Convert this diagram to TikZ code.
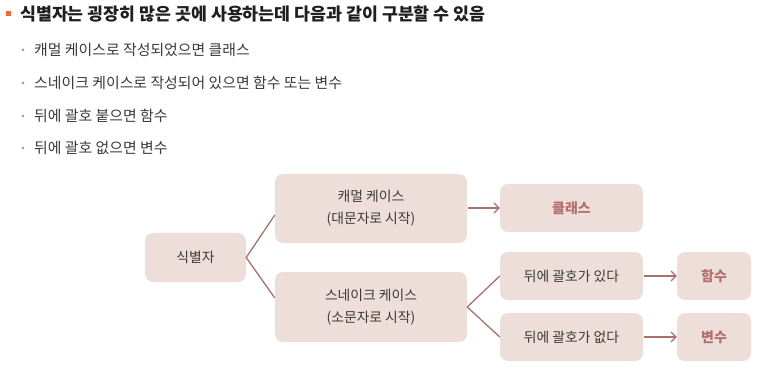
\documentclass[tikz,border=0pt]{standalone}
\usepackage{fontspec}
\setmainfont{Noto Sans CJK KR}
\usetikzlibrary{arrows.meta}
\definecolor{boxfill}{HTML}{EEDEDA}
\definecolor{linec}{HTML}{A8716C}
\definecolor{txt}{HTML}{3A3A3A}
\definecolor{hl}{HTML}{B0706C}
\definecolor{orng}{HTML}{F26A2E}
\definecolor{dotc}{HTML}{9A9A9A}
\tikzset{
  box/.style={fill=boxfill, rounded corners=8pt, align=center, text=txt,
    font=\fontsize{13.8}{22}\selectfont, inner sep=0pt},
  hlbox/.style={box, text=hl, font=\fontsize{14}{22}\selectfont\bfseries},
  conn/.style={draw=linec, line width=1.3pt},
  arr/.style={conn, -{Straight Barb[length=5pt,width=10pt,line width=1.1pt]}},
  subtxt/.style={anchor=west, text=txt, font=\fontsize{14.9}{18}\selectfont, inner sep=0pt},
  subdot/.style={circle, fill=dotc, minimum size=3pt, inner sep=0pt}
}
\begin{document}
\begin{tikzpicture}[x=1pt,y=-1pt]
\useasboundingbox (0,0) rectangle (772,377);
% header
\node[fill=orng, minimum size=5pt, inner sep=0pt] (hb) at (8.5,14) {};
\node[anchor=west, text=black!88, font=\fontsize{17.3}{20}\selectfont\bfseries, inner sep=0pt] (ht) at (20,14) {식별자는 굉장히 많은 곳에 사용하는데 다음과 같이 구분할 수 있음};
% sub bullets
\node[subdot] (d1) at (23,50) {};
\node[subtxt] (s1) at (34,50) {캐멀 케이스로 작성되었으면 클래스};
\node[subdot] (d2) at (23,83) {};
\node[subtxt] (s2) at (34,83) {스네이크 케이스로 작성되어 있으면 함수 또는 변수};
\node[subdot] (d3) at (23,116) {};
\node[subtxt] (s3) at (34,116) {뒤에 괄호 붙으면 함수};
\node[subdot] (d4) at (23,148) {};
\node[subtxt] (s4) at (34,148) {뒤에 괄호 없으면 변수};
% diagram boxes
\node[box, minimum width=101pt, minimum height=49pt] (sik) at (195.5,257.5) {식별자};
\node[box, minimum width=192pt, minimum height=69pt] (caml) at (371,208.5) {캐멀 케이스\\(대문자로 시작)};
\node[box, minimum width=192pt, minimum height=70pt] (snake) at (371,307) {스네이크 케이스\\(소문자로 시작)};
\node[hlbox, minimum width=143pt, minimum height=48pt] (cls) at (571.5,208) {클래스};
\node[box, minimum width=143pt, minimum height=48pt] (yes) at (571.5,276) {뒤에 괄호가 있다};
\node[box, minimum width=143pt, minimum height=48pt] (no) at (571.5,337) {뒤에 괄호가 없다};
\node[hlbox, minimum width=74pt, minimum height=48pt] (func) at (714,276) {함수};
\node[hlbox, minimum width=74pt, minimum height=48pt] (var) at (714,337) {변수};
% connectors
\draw[conn] ([yshift=-6.5pt]caml.west) -- (sik.east) -- ([yshift=9pt]snake.west);
\draw[conn] (yes.west) -- (snake.east) -- (no.west);
\draw[arr] ([xshift=1pt]caml.east |- cls.west) -- (cls.west);
\draw[arr] ([xshift=1pt]yes.east) -- (func.west);
\draw[arr] ([xshift=1pt]no.east) -- (var.west);
\end{tikzpicture}
\end{document}
